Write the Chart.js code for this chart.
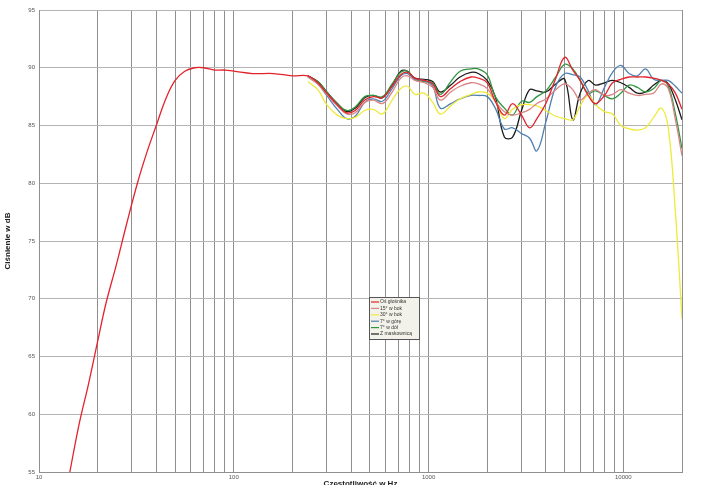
<!DOCTYPE html>
<html>
<head>
<meta charset="utf-8">
<script src="https://cdn.jsdelivr.net/npm/chart.js@4.4.1/dist/chart.umd.min.js"></script>
<style>
  body { margin: 0; overflow: hidden; background: #fff; }
  #box { width: 708px; height: 489px; }
</style>
</head>
<body>
<div id="box"><canvas id="wykres" width="708" height="489"></canvas></div>
<script>
// czestotliwosci (Hz)
const freqNisko = [14.4, 16, 18, 20, 22, 25, 28, 32, 36, 40, 45, 50, 56, 63, 70, 80, 90, 100, 125, 160, 200];
const freqPomiar = [240, 270, 300, 340, 380, 420, 470, 520, 580, 650, 720, 780, 850, 950, 1050, 1150,
  1300, 1450, 1650, 1800, 2000, 2200, 2450, 2700, 3000, 3300, 3600, 4000, 4500, 5000, 5500,
  6000, 6600, 7200, 8000, 8800, 9700, 10700, 11800, 13000, 14300, 15700, 17000, 18500, 20000];

// cisnienie w dB
const osNisko = [55, 59, 62.7, 66.3, 69.5, 73, 76.3, 80, 82.8, 85, 87.4, 88.9, 89.7, 90, 90, 89.8, 89.8, 89.7, 89.5, 89.5, 89.3];
const osGlosnika = [89.3, 88.7, 87.8, 86.8, 86.1, 86.3, 87.2, 87.5, 87.4, 88.4, 89.4, 89.6, 89.1, 88.9, 88.6, 87.5,
  88.2, 88.8, 89.2, 89.1, 88.7, 87.1, 85.9, 86.9, 85.9, 84.8, 85.6, 86.9, 89.1, 90.9, 89.8,
  88.9, 87.6, 86.9, 87.6, 88.7, 89.0, 89.2, 89.2, 89.2, 89.1, 88.9, 88.6, 87.8, 86.4];
const bok15 = [89.2, 88.6, 87.7, 86.7, 86.0, 86.1, 87.0, 87.2, 86.9, 87.9, 89.1, 89.3, 88.9, 88.7, 88.3, 87.2,
  87.9, 88.4, 88.7, 88.6, 88.2, 87.1, 86.2, 85.9, 86.1, 86.4, 86.9, 87.3, 88.1, 88.6, 88.1,
  87.2, 87.8, 88.1, 87.6, 87.7, 88.1, 87.8, 87.6, 87.7, 87.8, 88.6, 88.2, 85.5, 82.4];
const bok30 = [88.8, 88.1, 86.8, 85.9, 85.6, 85.7, 86.3, 86.4, 86.0, 87.2, 88.2, 88.4, 87.7, 87.8, 87.0, 86.0,
  86.7, 87.3, 87.7, 87.9, 87.8, 87.1, 85.6, 86.4, 86.8, 86.8, 86.7, 86.3, 85.8, 85.6, 85.5,
  86.7, 87.6, 86.8, 86.2, 86.0, 85.0, 84.7, 84.6, 84.8, 85.7, 86.5, 84.8, 77.5, 68.3];
const gora7 = [89.2, 88.6, 87.6, 86.4, 85.6, 85.8, 87.0, 87.3, 87.1, 88.2, 89.3, 89.5, 89.0, 88.9, 88.4, 86.5,
  86.9, 87.3, 87.6, 87.6, 87.5, 86.5, 84.7, 84.8, 84.3, 83.9, 82.8, 85.3, 88.4, 89.5, 89.4,
  89.2, 88.0, 86.8, 88.3, 89.6, 90.2, 89.5, 89.3, 89.9, 89.0, 88.9, 88.9, 88.4, 87.8];
const dol7 = [89.3, 88.8, 87.9, 86.9, 86.3, 86.6, 87.5, 87.6, 87.5, 88.6, 89.6, 89.7, 89.0, 88.8, 88.7, 87.7,
  88.8, 89.7, 89.9, 89.9, 89.4, 87.5, 86.5, 85.9, 87.1, 87.0, 87.5, 88.0, 89.2, 90.3, 89.9,
  88.9, 87.8, 88.0, 87.6, 87.3, 87.8, 88.5, 88.3, 87.9, 88.2, 88.9, 88.4, 86.0, 83.0];
const maskownica = [89.3, 88.8, 87.9, 86.9, 86.2, 86.5, 87.4, 87.6, 87.4, 88.5, 89.7, 89.7, 89.1, 89.0, 88.8, 87.9,
  88.5, 89.2, 89.6, 89.5, 88.9, 87.5, 84.0, 84.0, 86.3, 88.1, 88.0, 87.9, 88.6, 89.0, 85.5,
  87.8, 88.9, 88.5, 88.7, 88.9, 88.7, 88.3, 87.8, 87.9, 88.5, 88.9, 88.6, 87.2, 85.5];

const etykiety = ["Oś głośnika", "15° w bok", "30° w bok", "7° w górę", "7° w dół", "Z maskownicą"];
const kolory = ["#e3232b", "#d98585", "#eeea3c", "#4f80b0", "#2f9640", "#1c1c1c"];

const punkty = (fr, vals) => fr.map((f, i) => ({ x: f, y: vals[i] }));

const serie = [
  punkty(freqNisko.concat(freqPomiar), osNisko.concat(osGlosnika)),
  punkty(freqPomiar, bok15),
  punkty(freqPomiar, bok30),
  punkty(freqPomiar, gora7),
  punkty(freqPomiar, dol7),
  punkty(freqPomiar, maskownica)
];

// siatka: 10,20,...,90,100,200,...
const siatkaX = [];
for (let d = 10; d <= 10000; d *= 10) {
  for (let k = 1; k <= 9; k++) {
    if (d * k <= 20000) siatkaX.push(d * k);
  }
}
siatkaX.push(20000);

// legenda w srodku wykresu
const legendaPlugin = {
  id: 'legendaPlugin',
  afterDraw(chart) {
    const ctx = chart.ctx;
    const x0 = 369, y0 = 297, w = 50, h = 42;
    ctx.save();
    ctx.fillStyle = '#f3f2ea';
    ctx.fillRect(x0, y0, w, h);
    ctx.strokeStyle = '#555';
    ctx.lineWidth = 1;
    ctx.strokeRect(x0 + 0.5, y0 + 0.5, w, h);
    ctx.font = '5px Arial, "Liberation Sans", sans-serif';
    ctx.textBaseline = 'middle';
    chart.data.datasets.forEach((ds, i) => {
      const yy = y0 + 5 + i * 6.4;
      ctx.strokeStyle = ds.borderColor;
      ctx.lineWidth = 1.2;
      ctx.beginPath();
      ctx.moveTo(x0 + 2, yy);
      ctx.lineTo(x0 + 10, yy);
      ctx.stroke();
      ctx.fillStyle = '#333';
      ctx.fillText(ds.label, x0 + 11, yy);
    });
    ctx.restore();
  }
};

new Chart(document.getElementById('wykres'), {
  type: 'line',
  data: {
    datasets: serie.map((s, i) => ({
      label: etykiety[i],
      data: s,
      borderColor: kolory[i],
      backgroundColor: kolory[i],
      borderWidth: 1.3,
      pointRadius: 0,
      tension: 0.4,
      fill: false
    }))
  },
  options: {
    responsive: false,
    animation: false,
    layout: { padding: { left: 0, right: 26, top: 10, bottom: 0 } },
    plugins: {
      legend: { display: false },
      tooltip: { enabled: false }
    },
    scales: {
      x: {
        type: 'logarithmic',
        min: 10,
        max: 20000,
        afterBuildTicks: (scale) => { scale.ticks = siatkaX.map(v => ({ value: v })); },
        afterFit: (scale) => { scale.height = 17; },
        ticks: {
          autoSkip: false,
          maxRotation: 0,
          padding: 2,
          color: '#555',
          font: { size: 6, family: 'Arial, "Liberation Sans", sans-serif' },
          callback: (v) => ([10, 100, 1000, 10000].includes(v) ? String(v) : '')
        },
        grid: { color: '#8f8f8f', lineWidth: 1, drawTicks: false },
        border: { color: '#8f8f8f' },
        title: {
          display: true,
          text: 'Częstotliwość w Hz',
          color: '#222',
          font: { size: 8, weight: 'bold', family: 'Arial, "Liberation Sans", sans-serif' },
          padding: { top: 0, bottom: 0 }
        }
      },
      y: {
        min: 55,
        max: 95,
        afterFit: (scale) => { scale.width = 39; },
        ticks: {
          stepSize: 5,
          padding: 4,
          color: '#555',
          font: { size: 6, family: 'Arial, "Liberation Sans", sans-serif' }
        },
        grid: { color: '#b4b4b4', lineWidth: 1, drawTicks: false },
        border: { color: '#8f8f8f' },
        title: {
          display: true,
          text: 'Ciśnienie w dB',
          color: '#222',
          font: { size: 8, weight: 'bold', family: 'Arial, "Liberation Sans", sans-serif' },
          padding: { top: 3, bottom: 0 }
        }
      }
    }
  },
  plugins: [legendaPlugin]
});
</script>
</body>
</html>
